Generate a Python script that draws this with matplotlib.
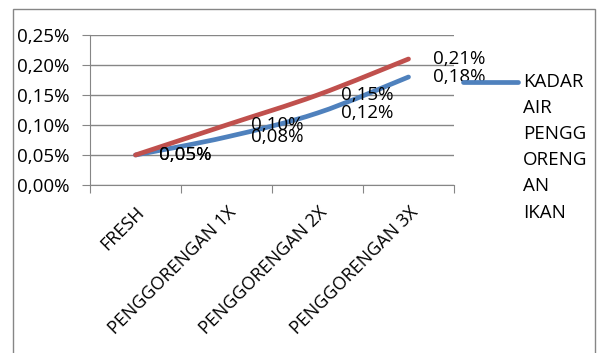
import numpy as np
import matplotlib.pyplot as plt
from matplotlib.path import Path
from matplotlib.patches import PathPatch, Rectangle
from matplotlib.ticker import FuncFormatter

categories = ['FRESH', 'PENGGORENGAN 1X', 'PENGGORENGAN 2X', 'PENGGORENGAN 3X']
kadar_air = [0.05, 0.08, 0.12, 0.18]
kadar_lain = [0.05, 0.10, 0.15, 0.21]
legend_lines = ['KADAR', 'AIR', 'PENGG', 'ORENG', 'AN', 'IKAN']

BLUE = '#4F81BD'
RED = '#C0504D'
GRID = '#868686'

plt.rcParams['font.family'] = ['Open Sans', 'DejaVu Sans']


def smooth_path(xs, ys):
    # catmull-rom style bezier, like the "smoothed line" option in spreadsheets
    pts = np.column_stack([xs, ys]).astype(float)
    verts = [pts[0]]
    codes = [Path.MOVETO]
    n = len(pts)
    for i in range(n - 1):
        p0 = pts[max(i - 1, 0)]
        p1 = pts[i]
        p2 = pts[i + 1]
        p3 = pts[min(i + 2, n - 1)]
        c1 = p1 + (p2 - p0) / 6.0
        c2 = p2 - (p3 - p1) / 6.0
        verts += [c1, c2, p2]
        codes += [Path.CURVE4] * 3
    return Path(verts, codes)


def pct(v):
    return ('%.2f%%' % v).replace('.', ',')


W, H = 597, 353
fig = plt.figure(figsize=(W / 100, H / 100), dpi=100)
ax = fig.add_axes([90 / W, 1 - 185 / H, (454 - 90) / W, 150 / H])

x = np.arange(len(categories))
for ys, col in [(kadar_air, BLUE), (kadar_lain, RED)]:
    patch = PathPatch(smooth_path(x, ys), facecolor='none', edgecolor=col,
                      lw=3.4, capstyle='round', joinstyle='round', zorder=3)
    ax.add_patch(patch)

ax.set_xlim(-0.5, len(categories) - 0.5)
ax.set_ylim(0, 0.25)
ax.set_yticks(np.arange(0, 0.26, 0.05))
ax.yaxis.set_major_formatter(FuncFormatter(lambda v, p: pct(v)))
ax.grid(axis='y', color=GRID, lw=1)
ax.set_axisbelow(True)

ax.set_xticks(np.arange(-0.5, len(categories), 1.0))
ax.set_xticklabels([])
ax.set_xticks(x, minor=True)
ax.set_xticklabels(categories, minor=True, rotation=45, ha='right', va='top',
                   rotation_mode='anchor', fontsize=13)
ax.tick_params(axis='x', which='minor', length=0, pad=13)
ax.tick_params(axis='x', which='major', length=6, color=GRID)
ax.tick_params(axis='y', length=6, color=GRID, labelsize=13.5, pad=9)

for s in ['top', 'right']:
    ax.spines[s].set_visible(False)
for s in ['left', 'bottom']:
    ax.spines[s].set_color(GRID)

# value labels to the right of each point
for i in range(len(categories)):
    for ys in (kadar_air, kadar_lain):
        ax.annotate(pct(ys[i]), (x[i], ys[i]),
                    xytext=(24, 0), textcoords='offset pixels',
                    ha='left', va='center', fontsize=13.5, zorder=4)

# legend (only the first series is listed)
fig.add_artist(plt.Line2D([463 / W, 518 / W], [1 - 82 / H, 1 - 82 / H],
                          color=BLUE, lw=3.4, solid_capstyle='round'))
for k, word in enumerate(legend_lines):
    fig.text(523 / W, 1 - (82 + 26.1 * k) / H, word, ha='left',
             va='center', fontsize=13.5)

# chart frame
fig.add_artist(Rectangle((13 / W, -0.01), (595 - 13) / W, 1 - 9 / H + 0.01,
                         transform=fig.transFigure, fill=False,
                         edgecolor=GRID, lw=1))

fig.savefig('out.png', dpi=100)
